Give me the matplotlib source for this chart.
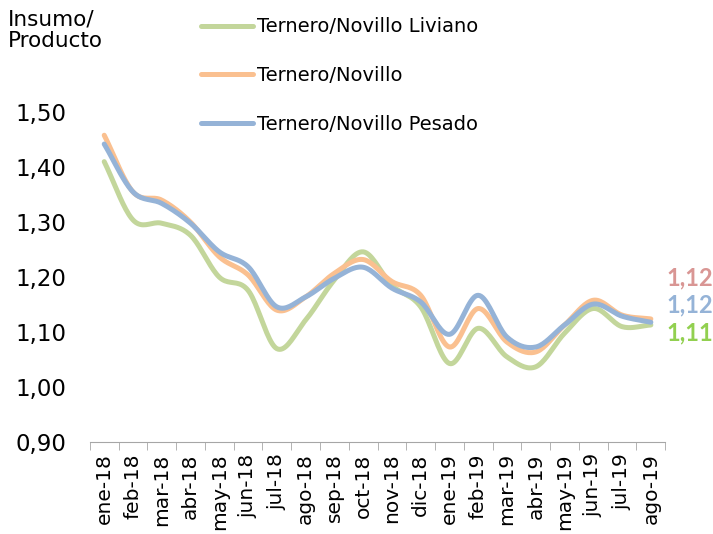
import matplotlib
matplotlib.use("Agg")
import matplotlib.pyplot as plt
import numpy as np

months = ["ene-18", "feb-18", "mar-18", "abr-18", "may-18", "jun-18", "jul-18",
          "ago-18", "sep-18", "oct-18", "nov-18", "dic-18", "ene-19", "feb-19",
          "mar-19", "abr-19", "may-19", "jun-19", "jul-19", "ago-19"]
liviano = [1.41, 1.304, 1.298, 1.276, 1.200, 1.176, 1.070, 1.122, 1.195, 1.246,
           1.185, 1.146, 1.043, 1.107, 1.055, 1.037, 1.098, 1.143, 1.110, 1.113]
novillo = [1.458, 1.355, 1.340, 1.300, 1.237, 1.204, 1.140, 1.164, 1.207, 1.232,
           1.192, 1.167, 1.073, 1.143, 1.082, 1.064, 1.113, 1.158, 1.131, 1.124]
pesado = [1.442, 1.355, 1.334, 1.298, 1.246, 1.219, 1.146, 1.164, 1.198, 1.218,
          1.180, 1.155, 1.096, 1.167, 1.091, 1.073, 1.113, 1.151, 1.129, 1.118]

plt.rcParams["font.family"] = ["DejaVu Sans"]


def smooth(y, n=20):
    # Catmull-Rom curve through the points, like Excel's smoothed line
    y = np.asarray(y, dtype=float)
    p = np.concatenate([[2 * y[0] - y[1]], y, [2 * y[-1] - y[-2]]])
    xs, ys = [], []
    for i in range(len(y) - 1):
        t = np.linspace(0, 1, n, endpoint=False)
        p0, p1, p2, p3 = p[i], p[i + 1], p[i + 2], p[i + 3]
        seg = 0.5 * ((2 * p1) + (-p0 + p2) * t + (2 * p0 - 5 * p1 + 4 * p2 - p3) * t**2
                     + (-p0 + 3 * p1 - 3 * p2 + p3) * t**3)
        xs.append(i + t)
        ys.append(seg)
    xs.append([len(y) - 1])
    ys.append([y[-1]])
    return np.concatenate(xs), np.concatenate(ys)


fig = plt.figure(figsize=(7.13, 5.34), dpi=100)
ax = fig.add_axes([0.126, 0.172, 0.807, 0.618])

series = [
    ("Ternero/Novillo Liviano", liviano, "#C3D69B", "#92D050", 1.098),
    ("Ternero/Novillo", novillo, "#FAC090", "#D99694", 1.198),
    ("Ternero/Novillo Pesado", pesado, "#95B3D7", "#95B3D7", 1.149),
]
for name, vals, color, lab_color, lab_y in series:
    x, y = smooth(vals)
    ax.plot(x, y, color=color, linewidth=3.6, solid_capstyle="round", label=name)
    ax.text(len(vals) - 0.45, lab_y, f"{vals[-1]:.2f}".replace(".", ","),
            color=lab_color, fontsize=17, fontweight="bold", va="center", ha="left",
            family="Lato")

ax.set_xlim(-0.5, len(months) - 0.5)
ax.set_ylim(0.90, 1.50)
ax.set_yticks(np.arange(0.9, 1.51, 0.1))
ax.set_yticklabels([f"{v:.2f}".replace(".", ",") for v in np.arange(0.9, 1.51, 0.1)],
                   fontsize=16.5)
ax.set_xticks(range(len(months)))
ax.set_xticklabels(months, rotation=90, fontsize=14.5)
ax.set_xticks(np.arange(-0.5, len(months), 1), minor=True)
ax.tick_params(axis="x", which="major", length=0, pad=8)
ax.tick_params(axis="x", which="minor", length=6, color="#A6A6A6")
ax.tick_params(axis="y", length=0, pad=17)
for side in ["top", "right", "left"]:
    ax.spines[side].set_visible(False)
ax.spines["bottom"].set_color("#A6A6A6")

fig.text(0.011, 0.983, "Insumo/\nProducto", fontsize=15.5, ha="left", va="top",
         linespacing=1.15)

fig.legend(loc="upper left", bbox_to_anchor=(0.257, 1.0), frameon=False,
           fontsize=14, handlelength=2.7, labelspacing=1.53, handletextpad=0.2)

fig.savefig("out.png", dpi=100)
